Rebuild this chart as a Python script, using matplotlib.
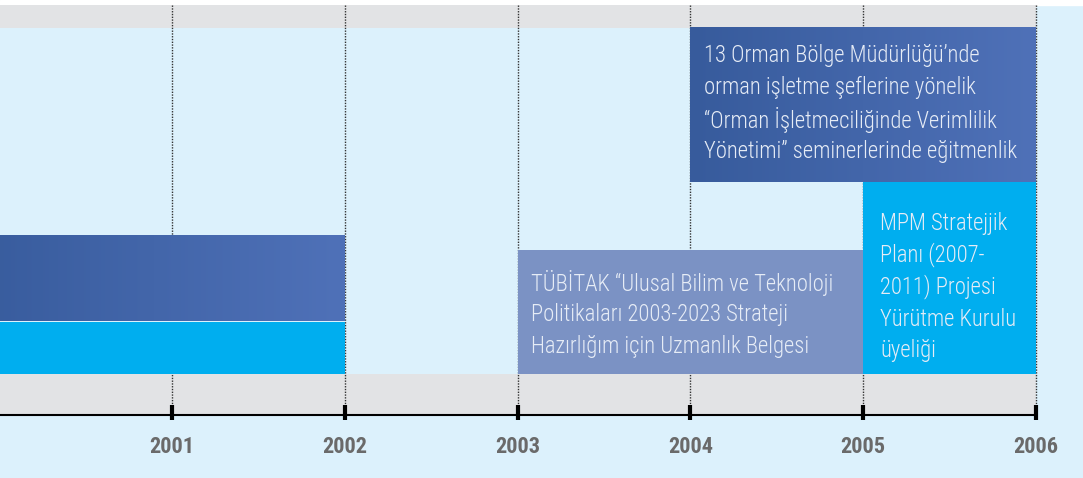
import numpy as np
import matplotlib
matplotlib.use("Agg")
import matplotlib.pyplot as plt
from matplotlib.colors import LinearSegmentedColormap
from matplotlib import font_manager

# ---- data ----
years = [2001, 2002, 2003, 2004, 2005, 2006]
year_labels = ["2001", "2002", "2003", "2004", "2005", "2006"]

bar_names = ["bar_a", "bar_b", "tubitak", "orman", "mpm"]
bar_start = [1999.0, 1999.0, 2003, 2004, 2005]
bar_end = [2002, 2002, 2005, 2006, 2006]

orman_text = ["13 Orman Bölge Müdürlüğü’nde",
              "orman işletme şeflerine yönelik",
              "“Orman İşletmeciliğinde Verimlilik",
              "Yönetimi” seminerlerinde eğitmenlik"]
tubitak_text = ["TÜBİTAK “Ulusal Bilim ve Teknoloji",
                "Politikaları 2003-2023 Strateji",
                "Hazırlığım için Uzmanlık Belgesi"]
mpm_text = ["MPM Stratejjik", "Planı (2007-", "2011) Projesi",
            "Yürütme Kurulu", "üyeliği"]

# ---- layout / style ----
W, H = 1083, 478
x0 = 2001 - 172 / 172.8
x1 = 2001 + (1083 - 172) / 172.8

avail = {f.name for f in font_manager.fontManager.ttflist}
fam = "DejaVu Sans"
for cand in ["Roboto Condensed", "Archivo Narrow", "PT Sans Narrow",
             "Asap Condensed", "Open Sans Condensed", "Encode Sans Condensed"]:
    if cand in avail:
        fam = cand
        break

LIGHT = "#DCF1FC"
GRAY = "#E2E3E5"
CYAN = "#00AEEF"
LAV = "#7B92C4"
TXT = "#E6ECF6"

fig = plt.figure(figsize=(W / 100, H / 100), dpi=100)
fig.patch.set_facecolor(LIGHT)
ax = fig.add_axes([0, 0, 1, 1])
ax.set_xlim(x0, x1)
ax.set_ylim(H, 0)
ax.axis("off")

ax.axhspan(0, 5, color="white", zorder=0)
ax.fill_between([x0, 2006], 5, 27.5, color=GRAY, zorder=0.5, lw=0)
ax.fill_between([x0, 2006], 373.5, 415, color=GRAY, zorder=0.5, lw=0)

for yr in years:
    ax.plot([yr, yr], [5, 405], color="#333333", lw=1.0, ls=(0, (1, 1)), zorder=1)

grad = LinearSegmentedColormap.from_list("g", ["#375B9C", "#4F71B8"])

rows = {"bar_a": (236, 321.5), "bar_b": (321.5, 373.5), "tubitak": (250, 373.5),
        "orman": (27.5, 182), "mpm": (182, 373.5)}
fills = {"bar_a": "grad", "bar_b": CYAN, "tubitak": LAV, "orman": "grad", "mpm": CYAN}

for name, s, e in zip(bar_names, bar_start, bar_end):
    top, bot = rows[name]
    s = max(s, x0)
    if fills[name] == "grad":
        lo = 0.1 if name == "bar_a" else 0.0
        g = np.linspace(lo, 1, 256).reshape(1, -1)
        ax.imshow(g, cmap=grad, vmin=0, vmax=1, aspect="auto",
                  extent=(s, e, bot, top), zorder=2, interpolation="bilinear")
    else:
        ax.fill_between([s, e], top, bot, color=fills[name], lw=0, zorder=2)

ax.set_xlim(x0, x1)
ax.set_ylim(H, 0)

ax.plot([x0, 2006], [415, 415], color="black", lw=1.5, zorder=3)
for yr, lab in zip(years, year_labels):
    ax.plot([yr, yr], [405, 420], color="black", lw=3, zorder=3, solid_capstyle="butt")
    ax.text(yr, 447, lab, ha="center", va="center", fontsize=16,
            fontweight="bold", color="#6A6A6A", family=fam)

def px2x(px):
    return 2001 + (px - 172) / 172.8

# fit font size so the widest Orman line spans its reference width
probe = ax.text(0, 0, orman_text[3], fontsize=10, family=fam, fontweight="light")
fig.canvas.draw()
w10 = probe.get_window_extent().width
probe.remove()
fs = 10 * 316 / w10

for i, t in enumerate(orman_text):
    ax.text(px2x(704), 55 + i * 32.3, t, ha="left", va="center", fontsize=fs,
            color=TXT, family=fam, fontweight="light", zorder=4)
for i, t in enumerate(tubitak_text):
    ax.text(px2x(531), 283 + i * 32, t, ha="left", va="center", fontsize=fs,
            color=TXT, family=fam, fontweight="light", zorder=4)
for i, t in enumerate(mpm_text):
    ax.text(px2x(880), 223 + i * 32, t, ha="left", va="center", fontsize=fs,
            color=TXT, family=fam, fontweight="light", zorder=4)

fig.savefig("out.png", dpi=100, facecolor=LIGHT)
